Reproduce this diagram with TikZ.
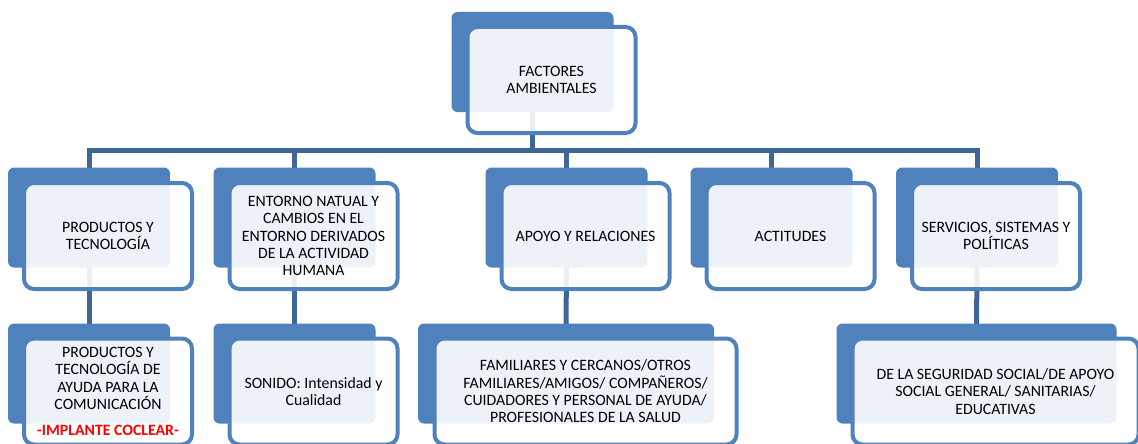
\documentclass[tikz,border=0pt]{standalone}
\usepackage{fontspec}
\setmainfont{Carlito}
\usetikzlibrary{positioning,backgrounds}
\definecolor{mainblue}{RGB}{79,129,189}
\definecolor{linkblue}{RGB}{62,102,152}
\definecolor{notered}{RGB}{255,0,0}
\newcommand{\diagfont}{\fontsize{15.8}{17.3}\selectfont}

\begin{document}
\begin{tikzpicture}[x=1pt, y=-1pt,
    backbox/.style={fill=mainblue, rounded corners=6pt, inner sep=0pt, outer sep=0pt,
                    minimum width=162pt, minimum height=100pt},
    frontbox/.style={draw=mainblue, line width=4pt, fill=white, fill opacity=0.9,
                     text opacity=1, rounded corners=10pt, inner sep=0pt,
                     minimum width=168pt, minimum height=106pt,
                     font=\diagfont, align=center},
    link/.style={line width=5pt, linkblue}
  ]
    \useasboundingbox (0,0) rectangle (1138,444);
    % top
    \node[backbox] (fabk) at (532.5,62) {};
    % first level
    \node[backbox] (prodbk) at (89,217.5) {};
    \node[backbox] (entbk) at (294.5,217.5) {};
    \node[backbox] (apobk) at (566.5,217.5) {};
    \node[backbox] (actbk) at (771.5,217.5) {};
    \node[backbox] (servbk) at (977,217.5) {};
    % second level
    \node[backbox] (ayubk) at (89,373.5) {};
    \node[backbox] (sonbk) at (294.5,373.5) {};
    \node[backbox, minimum width=296pt] (fambk) at (566,373.5) {};
    \node[backbox, minimum width=280pt] (segbk) at (976.5,373.5) {};

    \coordinate (bar) at (0,150);
    \begin{pgfonlayer}{background}
      \foreach \c in {prod,ent,apo,act,serv}
        \draw[link] (fabk.center) |- (bar -| \c bk.center) -- (\c bk.center);
      \foreach \a/\b in {prod/ayu,ent/son,apo/fam,serv/seg}
        \draw[link] (\a bk.center) -- (\b bk.center);
    \end{pgfonlayer}

    \node[frontbox] (fa) at ([shift={(19,18)}]fabk.center) {FACTORES\\AMBIENTALES};
    \node[frontbox] (prod) at ([shift={(19,18.5)}]prodbk.center) {PRODUCTOS Y\\TECNOLOGÍA};
    \node[frontbox] (ent) at ([shift={(19,18.5)}]entbk.center)
      {ENTORNO NATUAL Y\\CAMBIOS EN EL\\ENTORNO DERIVADOS\\DE LA ACTIVIDAD\\HUMANA};
    \node[frontbox] (apo) at ([shift={(19,18.5)}]apobk.center) {APOYO Y RELACIONES};
    \node[frontbox] (act) at ([shift={(19,18.5)}]actbk.center) {ACTITUDES};
    \node[frontbox] (serv) at ([shift={(19,18.5)}]servbk.center) {SERVICIOS, SISTEMAS Y\\POLÍTICAS};
    \node[frontbox] (ayu) at ([shift={(19,18)}]ayubk.center)
      {PRODUCTOS Y\\TECNOLOGÍA DE\\AYUDA PARA LA\\COMUNICACIÓN\\[8.7pt]
       \textcolor{notered}{\textbf{-IMPLANTE COCLEAR-}}};
    \node[frontbox] (son) at ([shift={(19,18)}]sonbk.center) {SONIDO: Intensidad y\\Cualidad};
    \node[frontbox, minimum width=302pt] (fam) at ([shift={(19.5,18)}]fambk.center)
      {FAMILIARES Y CERCANOS/OTROS\\FAMILIARES/AMIGOS/ COMPAÑEROS/\\CUIDADORES Y PERSONAL DE AYUDA/\\PROFESIONALES DE LA SALUD};
    \node[frontbox, minimum width=286pt] (seg) at ([shift={(19,18)}]segbk.center)
      {DE LA SEGURIDAD SOCIAL/DE APOYO\\SOCIAL GENERAL/ SANITARIAS/\\EDUCATIVAS};
  \end{tikzpicture}
\end{document}
